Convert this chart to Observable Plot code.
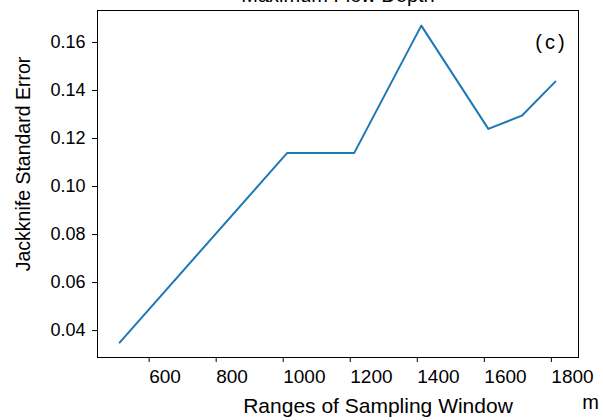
<!DOCTYPE html>
<html><head><meta charset="utf-8">
<script src="https://cdn.jsdelivr.net/npm/d3@7"></script>
<script src="https://cdn.jsdelivr.net/npm/@observablehq/plot@0.6"></script>
<style>body{margin:0;background:#fff;} svg{overflow:visible}</style>
</head><body><div id="c"></div>
<script>
const windows = [500, 1000, 1200, 1400, 1600, 1700, 1800];
const errors = [0.035, 0.114, 0.114, 0.167, 0.124, 0.1295, 0.1437];
const xTicks = [600, 800, 1000, 1200, 1400, 1600, 1800];
const yTicks = [0.04, 0.06, 0.08, 0.10, 0.12, 0.14, 0.16];
const title = "Maximum Flow Depth";
const xLabel = "Ranges of Sampling Window";
const yLabel = "Jackknife Standard Error";
const unit = "m";
const panel = "(c)";
const data = windows.map((w, i) => ({w, e: errors[i]}));

const chart = Plot.plot({
  width: 603, height: 420,
  marginLeft: 97, marginRight: 25, marginTop: 10, marginBottom: 63,
  style: {fontFamily: "Liberation Sans, Arial, sans-serif", fontSize: "18px", color: "#000", background: "#fff"},
  x: {domain: [434, 1869]},
  y: {domain: [0.0288, 0.1733]},
  marks: [
    Plot.frame({stroke: "#000", strokeWidth: 1}),
    Plot.axisX({ticks: xTicks, tickSize: 5, tickPadding: 7, tickFormat: d => String(d), label: null, fontSize: 19, textAnchor: "start", dx: -4}),
    Plot.axisY({ticks: yTicks, tickSize: 5, tickPadding: 7, tickFormat: d3.format(".2f"), label: null, fontSize: 18}),
    Plot.line(data, {x: "w", y: "e", stroke: "#1f77b4", strokeWidth: 2}),
    Plot.text([panel], {text: d => d, frameAnchor: "top-right", textAnchor: "middle", lineAnchor: "middle", dx: -27, dy: 32, fontSize: 20}),
    Plot.text([title], {text: d => d, frameAnchor: "top", dy: -23, fontSize: 20}),
    Plot.text([xLabel], {text: d => d, frameAnchor: "bottom", textAnchor: "middle", dx: 40, dy: 55, fontSize: 21}),
    Plot.text([unit], {text: d => d, frameAnchor: "bottom-right", textAnchor: "middle", dx: 12, dy: 51, fontSize: 20}),
    Plot.text([yLabel], {text: d => d, frameAnchor: "left", textAnchor: "middle", dx: -74, dy: -20, rotate: -90, fontSize: 19.5})
  ]
});
document.getElementById("c").appendChild(chart);
d3.select(chart).selectAll("text").filter(function(){ return this.textContent === panel; }).style("letter-spacing", "3px");
</script></body></html>
